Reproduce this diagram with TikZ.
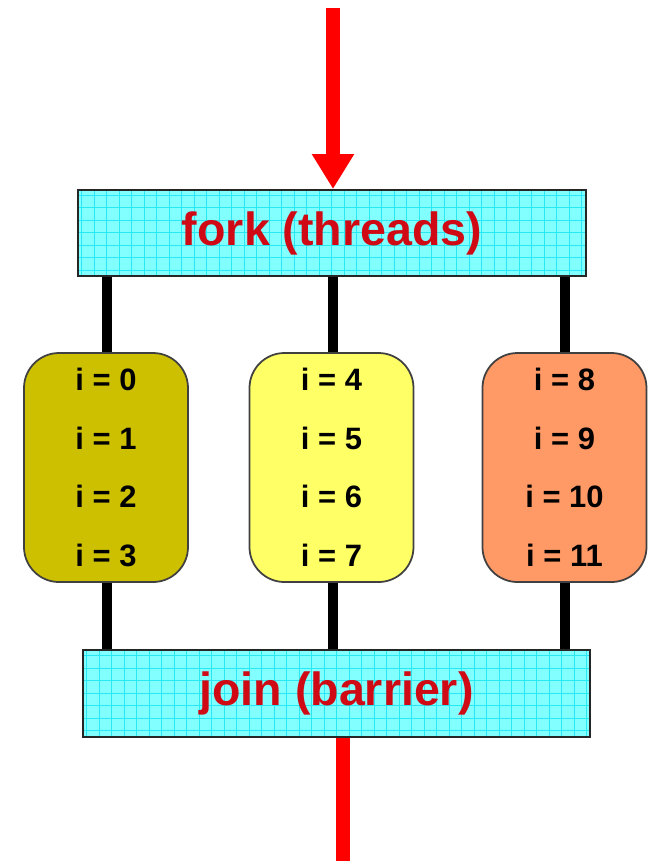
\documentclass[tikz,border=0pt]{standalone}
\usepackage{fontspec}
\setmainfont{Liberation Sans}
\usetikzlibrary{arrows.meta}

\definecolor{oliveyel}{RGB}{204,192,0}
\definecolor{paleyel}{RGB}{255,255,102}
\definecolor{salmon}{RGB}{255,153,102}
\definecolor{gridbg}{RGB}{130,255,255}
\definecolor{gridln}{RGB}{40,232,244}
\definecolor{labred}{RGB}{208,10,20}

\begin{document}
\begin{tikzpicture}[
  gridbox/.style={draw=black!85, line width=1.1pt, fill=gridbg,
    minimum width=10.16cm, minimum height=1.72cm,
    font=\bfseries\fontsize{26.5}{30}\selectfont, text=labred,
    path picture={\draw[gridln, line width=0.6pt, step=0.25]
      (path picture bounding box.south west) grid (path picture bounding box.north east);}},
  thread/.style={draw=black!75, line width=1pt, rounded corners=0.7cm,
    minimum width=3.28cm, minimum height=4.58cm, align=center,
    font=\bfseries\fontsize{17.6}{33.3}\selectfont},
  link/.style={line width=5.6pt, black},
  flow/.style={line width=7.4pt, red}]
\useasboundingbox (0,0) rectangle (13.06,-17.22);

\node[gridbox] (F) at (6.64,-4.66) {fork (threads)};
\node[gridbox, minimum height=1.74cm, minimum width=10.14cm] (J) at (6.73,-13.87) {join (barrier)};

\node[thread, fill=oliveyel] (T0) at (2.12,-9.35) {i = 0\\i = 1\\i = 2\\i = 3};
\node[thread, fill=paleyel] (T1) at (6.63,-9.35) {i = 4\\i = 5\\i = 6\\i = 7};
\node[thread, fill=salmon] (T2) at (11.29,-9.35) {i = 8\\i = 9\\i = 10\\i = 11};

\coordinate (in) at (6.66,-0.16);
\coordinate (out) at (6.86,-17.22);

\draw[flow, -{Triangle[length=0.7cm, width=0.8cm]}] (in) -- (in |- F.north);
\draw[flow] (J.south -| out) -- (out);

\draw[link] (F.south -| 2.14,0) -- (T0.north -| 2.14,0);
\draw[link] (F.south -| 6.66,0) -- (T1.north -| 6.66,0);
\draw[link] (F.south -| 11.3,0) -- (T2.north -| 11.3,0);
\draw[link] (T0.south -| 2.14,0) -- (J.north -| 2.14,0);
\draw[link] (T1.south -| 6.66,0) -- (J.north -| 6.66,0);
\draw[link] (T2.south -| 11.3,0) -- (J.north -| 11.3,0);
\end{tikzpicture}
\end{document}
